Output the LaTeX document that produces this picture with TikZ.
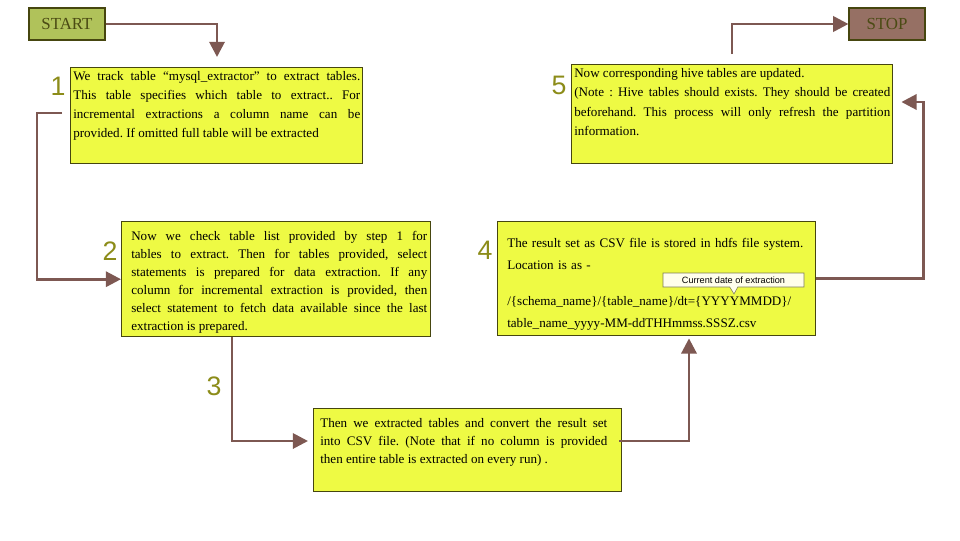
\documentclass[tikz,border=0pt]{standalone}
\usepackage{fontspec}
\setmainfont{Liberation Serif}
\newfontfamily\numfont{Liberation Sans}
\usepackage{tikz}
\usetikzlibrary{arrows.meta,calc,positioning,shapes.callouts}
\usepackage{xcolor}
\definecolor{boxfill}{RGB}{238,250,68}
\definecolor{boxline}{RGB}{70,70,15}
\definecolor{flowbrown}{RGB}{125,88,82}
\definecolor{startfill}{RGB}{176,194,90}
\definecolor{stopfill}{RGB}{150,112,100}
\definecolor{numolive}{RGB}{140,140,25}
\definecolor{textolive}{RGB}{75,75,20}
\newcommand{\pxu}{0.025cm}
\tikzstyle{stepbox}=[draw=boxline, line width=1pt, fill=boxfill, anchor=north west, inner sep=0pt]
\tikzstyle{steptext}=[anchor=north west, inner sep=0pt, align=justify, font=\frenchspacing\fontsize{9.3}{13.5}\selectfont]
\tikzstyle{flowline}=[draw=flowbrown, line width=2pt, -{Triangle[length=0.38cm,width=0.38cm]}]
\tikzstyle{termbox}=[draw=boxline, line width=0.8pt, minimum width=76*\pxu, minimum height=32*\pxu, inner sep=0pt, font=\fontsize{12}{14}\selectfont, text=textolive]
\tikzstyle{stepnum}=[font=\numfont\fontsize{19}{20}\selectfont, text=numolive, inner sep=0pt]
\tikzstyle{datelabel}=[draw=boxline!70, line width=0.4pt, fill=yellow!8!white, inner sep=0pt, font=\numfont\fontsize{6.5}{7}\selectfont]
% box with its text: name, nw corner, width, height, text offset, text options, text
\newcommand{\stepNbox}[7]{
	\node[stepbox, minimum width=#3*\pxu, minimum height=#4*\pxu] (#1) at #2 {};
	\node[steptext, #6] (#1text) at ($(#1.north west)+#5$) {#7};
}

\begin{document}
\begin{tikzpicture}[x=0.025cm, y=-0.025cm]
	\useasboundingbox (0,0) rectangle (960,540);
	\node[termbox, fill=startfill] (start) at (67,24) {START};
	\node[termbox, fill=stopfill] (stop) at (887,24) {STOP};

	\stepNbox{s1}{(70,67)}{292}{96}{(3,4.5)}{text width=287*\pxu}{We track table “mysql\_extractor” to extract tables.\linebreak This table specifies which table to extract.. For\linebreak incremental extractions a column name can be\linebreak provided. If omitted full table will be extracted}
	\stepNbox{s2}{(121,221)}{309}{115}{(10,10.5)}{text width=296*\pxu, font=\frenchspacing\fontsize{9.3}{12.8}\selectfont}{Now we check table list provided by step 1 for\linebreak tables to extract. Then for tables provided, select\linebreak statements is prepared for data extraction. If any\linebreak column for incremental extraction is provided, then\linebreak select statement to fetch data available since the last\linebreak extraction is prepared.}
	\stepNbox{s3}{(313,408)}{308}{83}{(7,10)}{text width=287*\pxu, font=\frenchspacing\fontsize{9.3}{12.8}\selectfont}{Then we extracted tables and convert the result set\linebreak into CSV file. (Note that if no column is provided\linebreak then entire table is extracted on every run) .}
	\stepNbox{s4}{(497,221)}{318}{114}{(10,17)}{text width=302*\pxu, align=left, font=\frenchspacing\fontsize{9.3}{15.3}\selectfont}{The result set as CSV file is stored in hdfs file system.\\ Location is as -\\[11pt] /\{schema\_name\}/\{table\_name\}/dt=\{YYYYMMDD\}/\\ table\_name\_yyyy-MM-ddTHHmmss.SSSZ.csv}
	\stepNbox{s5}{(571,64)}{321}{99}{(3,4)}{text width=316*\pxu, font=\frenchspacing\fontsize{9.3}{13.9}\selectfont}{Now corresponding hive tables are updated.\par (Note : Hive tables should exists. They should be created\linebreak beforehand. This process will only refresh the partition\linebreak information.}

	\node[datelabel, rectangle callout, minimum width=141*\pxu, minimum height=14*\pxu, callout absolute pointer={(734,294)}, callout pointer width=8*\pxu] (date) at (733.5,280) {Current date of extraction};

	\node[stepnum] (num1) at (58,86) {1};
	\node[stepnum] (num2) at (110,251) {2};
	\node[stepnum] (num3) at (214,386) {3};
	\node[stepnum] (num4) at (485,250) {4};
	\node[stepnum] (num5) at (559,85) {5};

	\coordinate (c1) at ($(s1.north west)+(-8,46)$);
	\coordinate (c2) at ($(s2.south west)+(111,0)$);
	\coordinate (c3) at ($(s3.north east)+(-3,33)$);
	\coordinate (c5) at ($(s5.north west)+(161,-10)$);
	\draw[flowline, shorten >=10*\pxu] (start.east) -| ($(s1.north west)+(147,0)$);
	\draw[flowline] (c1) -- ++(-25,0) |- (s2.west);
	\draw[flowline, shorten >=5*\pxu] (c2) |- ($(s3.north west)+(0,33)$);
	\draw[flowline, shorten >=2*\pxu] (c3) -| ($(s4.south west)+(192,0)$);
	\draw[flowline, shorten >=8*\pxu] (s4.east) -- ++(107,0) |- ($(s5.north east)+(0,38)$);
	\draw[flowline] (c5) |- (stop.west);
\end{tikzpicture}
\end{document}
